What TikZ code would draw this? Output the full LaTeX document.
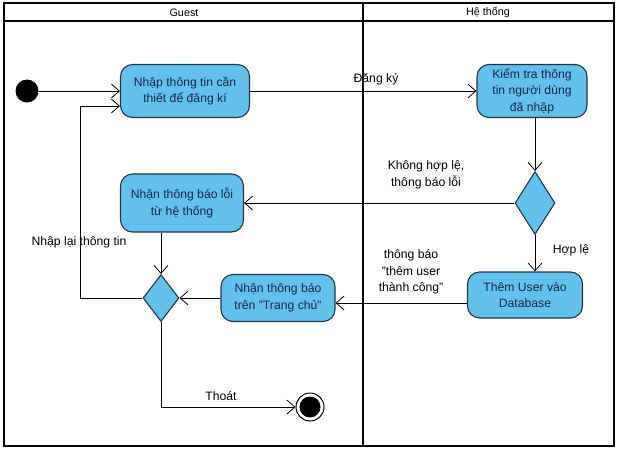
\documentclass[tikz,border=0pt]{standalone}
\usepackage{fontspec}
\setmainfont{Liberation Sans}
\usetikzlibrary{positioning,shapes.geometric,arrows.meta}
\definecolor{actfill}{RGB}{98,192,236}
\definecolor{actdraw}{RGB}{40,52,70}
\definecolor{acttext}{RGB}{25,40,75}

\begin{document}
\begin{tikzpicture}[x=1pt, y=-1pt, >={Straight Barb[length=8pt,width=14pt]},
  every node/.style={font=\fontsize{12.2}{16.5}\selectfont},
  action/.style={draw=actdraw, line width=1.1pt, fill=actfill, rounded corners=12pt, align=center, text=acttext, inner sep=0pt},
  decision/.style={diamond, draw=actdraw, line width=1.1pt, fill=actfill, inner sep=0pt},
  endstate/.style={circle, draw, line width=1pt, minimum size=28pt, inner sep=0pt,
    path picture={\fill (path picture bounding box.center) circle (10.5pt);}},
  flow/.style={->, line width=0.8pt},
  lane/.style={line width=2pt},
  lanehead/.style={font=\fontsize{10.8}{13}\selectfont},
  lbl/.style={align=center}]
  \useasboundingbox (0,0) rectangle (620,452);
  % swimlanes
  \draw[lane] (4,3) rectangle (614,446);
  \draw[lane] (4,21) -- (614,21);
  \draw[lane] (363,3) -- (363,446);
  \node[lanehead] (guest) at (184,12.5) {Guest};
  \node[lanehead] (hethong) at (488,12.5) {Hệ thống};
  % activities
  \node[circle, fill=black, minimum size=23pt, inner sep=0pt] (start) at (27,91) {};
  \node[action, minimum width=129pt, minimum height=53pt] (nhap) at (185,91) {Nhập thông tin cần\\thiết để đăng kí};
  \node[action, minimum width=110pt, minimum height=53pt] (kiemtra) at (532,91) {Kiểm tra thông\\tin người dùng\\đã nhập};
  \node[decision, minimum width=40pt, minimum height=63pt] (check) at (535,203) {};
  \node[action, minimum width=123pt, minimum height=58pt] (loi) at (182,203) {Nhận thông báo lỗi\\từ hệ thống};
  \node[decision, minimum width=36pt, minimum height=47pt] (chon) at (161,298) {};
  \node[action, minimum width=115pt, minimum height=46pt] (them) at (525,295) {Thêm User vào\\Database};
  \node[action, minimum width=114pt, minimum height=47pt] (trangchu) at (278,298) {Nhận thông báo\\trên "Trang chủ"};
  \node[endstate] (ket) at (310,407) {};
  \coordinate (lap) at (80,106);
  \coordinate (eout) at ([yshift=-8pt]them.west);
  % flows
  \draw[flow] (start) -- (start -| nhap.west);
  \draw[flow] (nhap.east) -- (kiemtra.west);
  \draw[flow] (kiemtra.south -| check) -- (check.north);
  \draw[flow] (check.west) -- (loi.east);
  \draw[flow] (check.south) -- (check.south |- them.north);
  \draw[flow] (loi.south -| chon) -- (chon.north);
  \draw[flow] (eout) -- (eout -| trangchu.east);
  \draw[flow] (trangchu.west) -- (chon.east);
  \draw[flow] (chon.west) -| (lap) -- (lap -| nhap.west);
  \draw[flow] (chon.south) |- (ket.west);
  % labels
  \node (dangky) at (376,79) {Đăng ký};
  \node[lbl] (khonghople) at (426,175) {Không hợp lệ,\\thông báo lỗi};
  \node (hople) at (571,250) {Hợp lệ};
  \node[lbl] (thanhcong) at (411,272) {thông báo\\"thêm user\\thành công"};
  \node (nhaplai) at (79,242) {Nhập lại thông tin};
  \node (thoat) at (221,396) {Thoát};
\end{tikzpicture}
\end{document}
